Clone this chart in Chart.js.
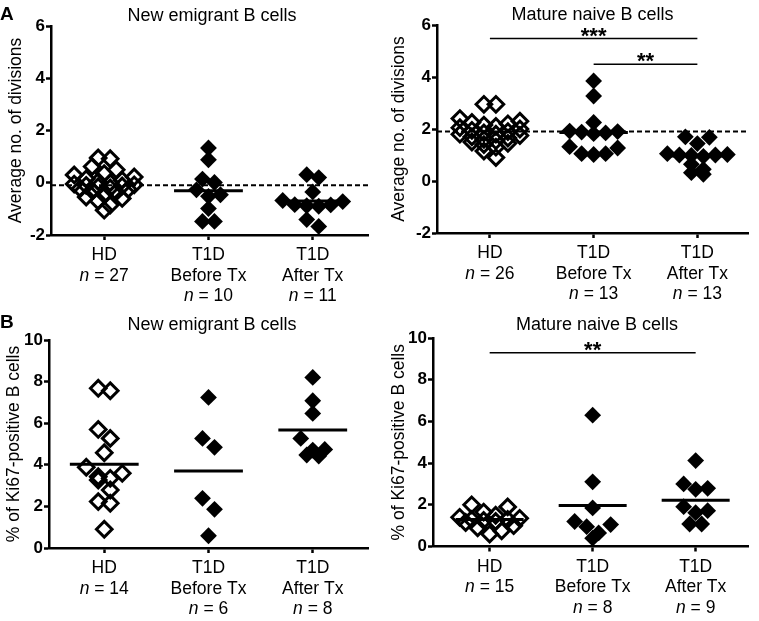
<!DOCTYPE html>
<html>
<head>
<meta charset="utf-8">
<script src="https://cdn.jsdelivr.net/npm/chart.js@4/dist/chart.umd.min.js"></script>
<style>
html,body{margin:0;padding:0;background:#fff;width:759px;height:621px;overflow:hidden}
.p{position:absolute}
canvas{display:block}
</style>
</head>
<body>
<div class="p" style="left:0;top:0"><canvas id="c1" width="380" height="310"></canvas></div>
<div class="p" style="left:380px;top:0"><canvas id="c2" width="379" height="310"></canvas></div>
<div class="p" style="left:0;top:310px"><canvas id="c3" width="380" height="311"></canvas></div>
<div class="p" style="left:380px;top:310px"><canvas id="c4" width="379" height="311"></canvas></div>
<script>
// ---------- categories & ticks ----------
const groupLines = [['HD'], ['T1D', 'Before Tx'], ['T1D', 'After Tx']];
const divTicks = [-2, 0, 2, 4, 6];
const kiTicks = [0, 2, 4, 6, 8, 10];

// ---------- A: average no. of divisions, new emigrant B cells ----------
const newDivHD = [0.95, 0.92, 0.62, 0.5, 0.35, 0.3, 0.22, 0.15, 0.1, 0.05, 0.0, -0.05, -0.08, -0.1, -0.12, -0.15, -0.2, -0.22, -0.25, -0.3, -0.35, -0.45, -0.55, -0.6, -0.7, -0.85, -1.05];
const newDivBefore = [1.33, 0.88, 0.14, 0.01, -0.27, -0.46, -0.52, -0.99, -1.48, -1.48];
const newDivAfter = [0.31, 0.2, -0.35, -0.68, -0.72, -0.84, -0.85, -0.88, -0.9, -1.41, -1.67];
const newDivMeans = [null, -0.31, -0.70];
const newDivRef = -0.1;

// ---------- A: average no. of divisions, mature naive B cells ----------
const matDivHD = [2.95, 2.95, 2.4, 2.3, 2.25, 2.2, 2.15, 2.1, 2.05, 2.0, 1.95, 1.9, 1.85, 1.8, 1.8, 1.75, 1.7, 1.65, 1.6, 1.55, 1.5, 1.45, 1.4, 1.3, 1.15, 0.9];
const matDivBefore = [3.85, 3.27, 2.25, 1.92, 1.9, 1.88, 1.85, 1.82, 1.32, 1.27, 1.05, 1.05, 1.02];
const matDivAfter = [1.7, 1.68, 1.44, 1.05, 1.02, 1.0, 1.0, 0.98, 0.95, 0.64, 0.45, 0.32, 0.26];
const matDivMeans = [null, 1.87, 0.96];
const matDivRef = 1.9;
const matDivSig = [{from: 0, to: 2, y: 5.48, text: '***'}, {from: 1, to: 2, y: 4.49, text: '**'}];

// ---------- B: % Ki67-positive, new emigrant B cells ----------
const newKiHD = [7.68, 7.56, 5.7, 5.27, 4.58, 3.88, 3.59, 3.43, 3.35, 3.27, 2.79, 2.23, 2.15, 0.9];
const newKiBefore = [7.24, 5.27, 4.84, 2.39, 1.86, 0.59];
const newKiAfter = [8.2, 7.08, 6.47, 5.27, 4.74, 4.71, 4.47, 4.42];
const newKiMeans = [4.03, 3.70, 5.67];

// ---------- B: % Ki67-positive, mature naive B cells ----------
const matKiHD = [2.0, 1.9, 1.65, 1.5, 1.4, 1.35, 1.3, 1.3, 1.25, 1.2, 1.15, 1.0, 0.9, 0.75, 0.6];
const matKiBefore = [6.3, 3.1, 1.85, 1.2, 1.05, 0.95, 0.65, 0.4];
const matKiAfter = [4.12, 3.0, 2.79, 2.74, 1.91, 1.72, 1.62, 1.08, 1.08];
const matKiMeans = [1.3, 1.97, 2.22];
const matKiSig = [{from: 0, to: 2, y: 9.29, text: '**'}];

// ---------- rendering ----------
const FF = "'Liberation Sans', Arial, Helvetica, sans-serif";
Chart.defaults.font.family = FF;
Chart.defaults.color = '#000';

const decor = {
  id: 'decor',
  afterDraw(chart, args, o) {
    const ctx = chart.ctx, xs = chart.scales.x, ys = chart.scales.y;
    const base = chart.chartArea.bottom;
    ctx.save();
    ctx.fillStyle = '#000';
    ctx.textBaseline = 'alphabetic';
    ctx.textAlign = 'center';
    ctx.font = '18px ' + FF;
    ctx.fillText(o.title, o.titleX, o.titleY);
    if (o.letter) {
      ctx.textAlign = 'left';
      ctx.font = 'bold 19px ' + FF;
      ctx.fillText(o.letter, 0, o.letterY);
    }
    o.groups.forEach((lines, i) => {
      const cx = xs.getPixelForValue(i);
      ctx.textAlign = 'center';
      ctx.font = '17.5px ' + FF;
      lines.forEach((t, k) => ctx.fillText(t, cx, base + 25 + k * 20.5));
      const y = base + 25 + lines.length * 20.5;
      const fI = 'italic 17.5px ' + FF, fN = '17.5px ' + FF;
      const rest = ' = ' + o.counts[i];
      ctx.font = fI; const wI = ctx.measureText('n').width;
      ctx.font = fN; const wR = ctx.measureText(rest).width;
      const x0 = cx - (wI + wR) / 2;
      ctx.textAlign = 'left';
      ctx.font = fI; ctx.fillText('n', x0, y);
      ctx.font = fN; ctx.fillText(rest, x0 + wI, y);
    });
    ctx.textAlign = 'center';
    ctx.font = 'bold 22px ' + FF;
    o.sig.forEach(s => {
      const cx = (xs.getPixelForValue(s.from) + xs.getPixelForValue(s.to)) / 2;
      ctx.fillText(s.text, cx, ys.getPixelForValue(s.y) + 4);
    });
    ctx.restore();
  }
};

function makePanel(p) {
  const datasets = [];
  p.groups.forEach((vals, i) => {
    const open = i === 0;
    datasets.push({
      type: 'scatter',
      data: vals.map(v => ({x: i, y: v})),
      pointStyle: 'rectRot',
      pointRadius: open ? 7.8 : 8.4,
      pointHoverRadius: open ? 7.8 : 8.4,
      pointBorderWidth: open ? 3 : 0,
      pointBorderColor: '#000',
      pointBackgroundColor: open ? 'rgba(0,0,0,0)' : '#000',
      order: 2
    });
  });
  const lineDs = (pts, w, dash) => ({
    type: 'line', data: pts, borderColor: '#000', borderWidth: w,
    borderDash: dash || [], pointRadius: 0, fill: false, tension: 0,
    borderCapStyle: 'butt', order: 1
  });
  p.means.forEach((m, i) => {
    if (m === null) return;
    datasets.push(lineDs([{x: i - 0.33, y: m}, {x: i + 0.33, y: m}], 3));
  });
  if (p.ref !== null) {
    datasets.push(lineDs([{x: p.xr[0], y: p.ref}, {x: p.xr[1], y: p.ref}], 2, [5, 3]));
  }
  p.sig.forEach(s => datasets.push(lineDs([{x: s.from, y: s.y}, {x: s.to, y: s.y}], 1.5)));

  const axisGrid = {display: true, drawOnChartArea: false, drawTicks: true, tickLength: 5, tickWidth: 2.5, tickColor: '#000'};
  const chart = new Chart(document.getElementById(p.id), {
    type: 'scatter',
    data: {datasets},
    plugins: [decor],
    options: {
      responsive: false, animation: false, events: [], devicePixelRatio: 1,
      layout: {padding: {left: 0, top: p.area.t, right: p.w - p.area.r, bottom: 0}},
      plugins: {
        legend: {display: false}, tooltip: {enabled: false},
        decor: {title: p.title, titleX: p.titleX, titleY: p.titleY, letter: p.letter, letterY: p.letterY,
                groups: groupLines, counts: p.groups.map(g => g.length), sig: p.sig}
      },
      scales: {
        x: {
          type: 'linear', min: p.xr[0], max: p.xr[1],
          afterBuildTicks: s => { s.ticks = [0, 1, 2].map(v => ({value: v})); },
          ticks: {display: false},
          grid: axisGrid,
          border: {display: true, color: '#000', width: 2.5},
          afterFit: s => { s.height = p.h - p.area.b; }
        },
        y: {
          type: 'linear', min: p.yr[0], max: p.yr[1],
          afterBuildTicks: s => { s.ticks = p.yTicks.map(v => ({value: v})); },
          ticks: {color: '#000', padding: 1, font: {size: 17, weight: 'bold', family: FF}, callback: v => String(v)},
          grid: axisGrid,
          border: {display: true, color: '#000', width: 2.5},
          title: {display: true, text: p.yTitle, color: '#000', font: {size: 17.5, family: FF}, padding: {top: p.yTitlePad, bottom: 0}},
          afterFit: s => { s.width = p.area.l; }
        }
      }
    }
  });
  // beeswarm-style horizontal spreading computed from the values
  const xs = chart.scales.x, ys = chart.scales.y;
  const pxX = xs.getPixelForValue(1) - xs.getPixelForValue(0);
  const pxY = Math.abs(ys.getPixelForValue(1) - ys.getPixelForValue(0));
  const gap = p.gapPx / pxX;
  p.groups.forEach((vals, gi) => {
    const ds = chart.data.datasets[gi];
    const idx = vals.map((v, k) => k).sort((a, b) => vals[b] - vals[a]);
    const rows = [];
    let cur = null;
    idx.forEach(k => {
      if (cur && (cur.top - vals[k]) * pxY < p.tolPx && cur.items.length < 6) cur.items.push(k);
      else { cur = {top: vals[k], items: [k]}; rows.push(cur); }
    });
    rows.forEach(r => {
      const n = r.items.length;
      r.items.forEach((k, j) => {
        const slot = j % 2 === 0 ? j / 2 : n - 1 - (j - 1) / 2;
        ds.data[k].x = gi + (slot - (n - 1) / 2) * gap;
      });
    });
  });
  chart.update('none');
  return chart;
}

makePanel({id: 'c1', w: 380, h: 310, area: {l: 51, t: 26, r: 368, b: 235}, xr: [-0.51, 2.53],
  yr: [-2, 6], yTicks: divTicks, yTitle: 'Average no. of divisions', yTitlePad: 5.8,
  title: 'New emigrant B cells', titleX: 212, titleY: 21, letter: 'A', letterY: 20,
  groups: [newDivHD, newDivBefore, newDivAfter], means: newDivMeans, ref: newDivRef, sig: [],
  tolPx: 8, gapPx: 12});
makePanel({id: 'c2', w: 379, h: 310, area: {l: 57, t: 25, r: 370, b: 233}, xr: [-0.51, 2.49],
  yr: [-2, 6], yTicks: divTicks, yTitle: 'Average no. of divisions', yTitlePad: 8.8,
  title: 'Mature naive B cells', titleX: 212.5, titleY: 20, letter: null, letterY: 0,
  groups: [matDivHD, matDivBefore, matDivAfter], means: matDivMeans, ref: matDivRef, sig: matDivSig,
  tolPx: 8, gapPx: 12});
makePanel({id: 'c3', w: 380, h: 311, area: {l: 49, t: 30, r: 368, b: 238}, xr: [-0.53, 2.53],
  yr: [0, 10], yTicks: kiTicks, yTitle: '% of Ki67-positive B cells', yTitlePad: 3.8,
  title: 'New emigrant B cells', titleX: 212, titleY: 20, letter: 'B', letterY: 18,
  groups: [newKiHD, newKiBefore, newKiAfter], means: newKiMeans, ref: null, sig: [],
  tolPx: 12, gapPx: 12});
makePanel({id: 'c4', w: 379, h: 311, area: {l: 53, t: 28, r: 371, b: 236.5}, xr: [-0.55, 2.51],
  yr: [0, 10], yTicks: kiTicks, yTitle: '% of Ki67-positive B cells', yTitlePad: 8.8,
  title: 'Mature naive B cells', titleX: 217, titleY: 20, letter: null, letterY: 0,
  groups: [matKiHD, matKiBefore, matKiAfter], means: matKiMeans, ref: null, sig: matKiSig,
  tolPx: 12, gapPx: 12});
</script>
</body>
</html>
